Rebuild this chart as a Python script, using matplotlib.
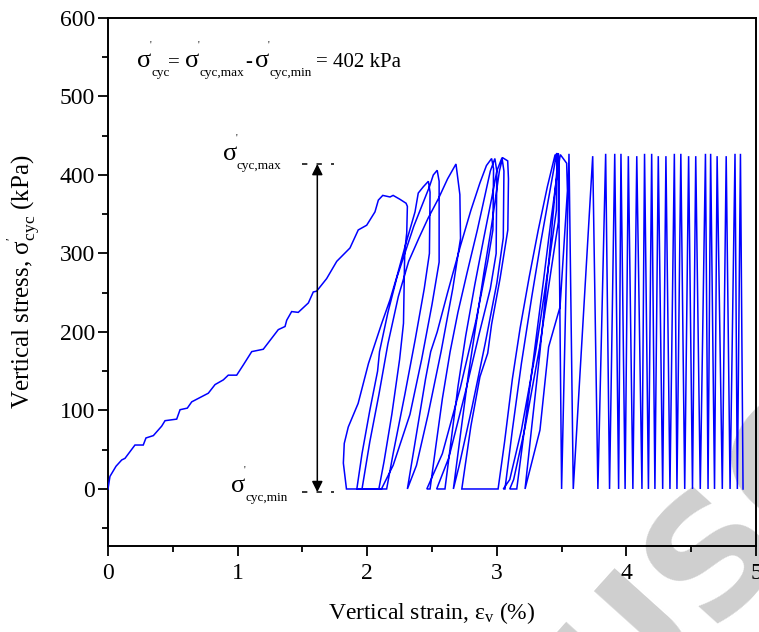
import matplotlib
matplotlib.use("Agg")
import matplotlib.pyplot as plt
from matplotlib.ticker import MultipleLocator

plt.rcParams['font.family'] = ['Liberation Serif', 'DejaVu Serif']
plt.rcParams['mathtext.fontset'] = 'custom'
plt.rcParams['mathtext.rm'] = 'Liberation Serif'
plt.rcParams['mathtext.it'] = 'Liberation Serif:italic'
plt.rcParams['mathtext.bf'] = 'Liberation Serif:bold'

# ---------------- data ----------------
# monotonic first loading
mono_strain = [0.0, 0.015, 0.062, 0.106, 0.131, 0.208, 0.272, 0.293, 0.35, 0.414, 0.44, 0.53,
               0.556, 0.612, 0.646, 0.774, 0.826, 0.89, 0.928, 0.993, 1.044, 1.109, 1.198,
               1.263, 1.314, 1.366, 1.379, 1.417, 1.468, 1.546, 1.584, 1.61, 1.687, 1.765,
               1.867, 1.931, 1.996, 2.06, 2.086, 2.12, 2.176, 2.20, 2.253, 2.30, 2.31]
mono_stress = [0, 16, 29, 37, 39, 56, 56, 65, 68, 80, 87, 89,
               101, 103, 111, 122, 133, 139, 145, 145, 158, 175, 178,
               192, 203, 207, 215, 226, 225, 237, 251, 252, 268, 290,
               307, 330, 336, 353, 368, 374, 372, 374, 369, 364, 360]

# unloading / reloading branches of the first cycles (in order)
loop_strain = [
    [2.31, 2.305, 2.29, 2.287, 2.28, 2.25, 2.19, 2.13, 2.09],
    [1.84, 1.816, 1.823, 1.854, 1.93, 2.01, 2.112, 2.176, 2.228, 2.292, 2.369, 2.394, 2.433, 2.472],
    [2.472, 2.485, 2.48, 2.44, 2.37, 2.29, 2.20, 2.15],
    [1.92, 1.96, 2.02, 2.08, 2.095, 2.16, 2.23, 2.30, 2.36, 2.42, 2.48, 2.51, 2.54],
    [2.54, 2.555, 2.555, 2.50, 2.42, 2.33, 2.20, 2.11],
    [1.96, 2.02, 2.09, 2.16, 2.24, 2.32, 2.40, 2.47, 2.55, 2.62, 2.685],
    [2.685, 2.715, 2.72, 2.66, 2.57, 2.47, 2.38, 2.31],
    [2.31, 2.38, 2.45, 2.49, 2.54, 2.62, 2.72, 2.80, 2.87, 2.92, 2.96],
    [2.96, 2.975, 2.97, 2.93, 2.84, 2.72, 2.58, 2.46],
    [2.485, 2.53, 2.58, 2.64, 2.70, 2.77, 2.85, 2.91, 2.95, 2.985],
    [2.985, 3.0, 2.995, 2.95, 2.86, 2.76, 2.63, 2.536],
    [2.60, 2.65, 2.70, 2.76, 2.83, 2.90, 2.96, 3.00, 3.04],
    [3.04, 3.055, 3.05, 3.00, 2.91, 2.81, 2.71, 2.665],
    [2.665, 2.72, 2.78, 2.84, 2.90, 2.95, 2.99, 3.02, 3.045, 3.084],
    [3.084, 3.09, 3.085, 3.025, 2.96, 2.93, 2.87, 2.80, 2.73],
    [3.01, 3.06, 3.12, 3.18, 3.25, 3.32, 3.39, 3.45],
    [3.45, 3.465, 3.46, 3.40, 3.30, 3.19, 3.10, 3.05],
    [3.063, 3.12, 3.19, 3.27, 3.34, 3.41, 3.462],
    [3.462, 3.48, 3.475, 3.42, 3.33, 3.22, 3.13, 3.10],
    [3.154, 3.22, 3.29, 3.36, 3.42, 3.465, 3.49, 3.539],
    [3.539, 3.545, 3.488, 3.40, 3.333, 3.218],
    [3.218, 3.27, 3.33, 3.39, 3.44, 3.475],
]
loop_stress = [
    [360, 326, 304, 279, 211, 165, 95, 35, 0],
    [0, 33, 58, 79, 109, 160, 211, 241, 270, 309, 353, 377, 385, 392],
    [392, 378, 300, 255, 190, 120, 45, 0],
    [0, 45, 100, 150, 175, 225, 270, 305, 335, 360, 385, 400, 406],
    [406, 392, 289, 235, 165, 95, 30, 0],
    [0, 60, 120, 185, 245, 290, 320, 345, 370, 395, 414],
    [414, 375, 319, 255, 175, 95, 30, 0],
    [0, 70, 140, 175, 200, 250, 310, 355, 390, 412, 421],
    [421, 408, 330, 290, 215, 130, 45, 0],
    [0, 55, 115, 175, 225, 275, 330, 375, 405, 421],
    [421, 405, 300, 255, 195, 125, 40, 0],
    [0, 65, 130, 195, 260, 320, 370, 405, 422],
    [422, 405, 320, 262, 185, 105, 30, 0],
    [0, 70, 145, 210, 275, 325, 370, 405, 422, 418],
    [418, 395, 330, 268, 210, 173, 143, 80, 0],
    [0, 60, 140, 205, 270, 330, 385, 426],
    [426, 415, 355, 285, 175, 75, 12, 0],
    [0, 75, 160, 245, 315, 380, 428],
    [428, 412, 340, 280, 180, 80, 12, 0],
    [0, 85, 175, 265, 345, 400, 426, 415],
    [415, 380, 232, 181, 75, 0],
    [0, 80, 170, 270, 360, 428],
]

# fast cycles at the end: trough and peak strains
osc_trough_strain = [3.50, 3.59, 3.78, 3.87, 3.94, 3.99, 4.05, 4.12, 4.17, 4.22, 4.28,
                     4.336, 4.39, 4.45, 4.51, 4.57, 4.63, 4.68, 4.74, 4.80, 4.856, 4.90]
osc_peak_strain = [3.557, 3.74, 3.84, 3.91, 3.958, 4.015, 4.08, 4.14, 4.195, 4.246,
                   4.305, 4.37, 4.42, 4.48, 4.535, 4.61, 4.65, 4.70, 4.77, 4.838, 4.88]
osc_peak_stress = [427, 424, 427, 427, 427, 424, 424, 427, 427, 424,
                   424, 427, 427, 424, 424, 427, 427, 424, 424, 427, 427]
osc_trough_stress = 0

sig_max = 414
sig_min = -4
arrow_strain = 1.615

# ---------------- figure ----------------
W, H = 759, 632
fig = plt.figure(figsize=(W/100, H/100), dpi=100)
ax = fig.add_axes([108/W, 1-545.5/H, (756-108)/W, (545.5-18)/H])

blue = '#0000ff'
lw = 1.1

xs = list(mono_strain)
ys = list(mono_stress)
for sx, sy in zip(loop_strain, loop_stress):
    xs += sx
    ys += sy
for i, xt in enumerate(osc_trough_strain):
    xs.append(xt); ys.append(osc_trough_stress)
    if i < len(osc_peak_strain):
        xs.append(osc_peak_strain[i]); ys.append(osc_peak_stress[i])
ax.plot(xs, ys, color=blue, lw=lw, solid_joinstyle='miter', zorder=3)

# arrow and dashed guides
ax.annotate('', xy=(arrow_strain, sig_max), xytext=(arrow_strain, sig_min),
            arrowprops=dict(arrowstyle='<|-|>', color='black', lw=1.1,
                            mutation_scale=16, shrinkA=0, shrinkB=0), zorder=4)
for yv in (sig_max, sig_min):
    ax.plot([1.50, 1.74], [yv, yv], color='black', lw=1.1, dashes=(3.5, 6), zorder=4)


def ptxt(x, y, s, size, **kw):
    """text placed at a pixel position of the 759x632 picture (baseline, left)"""
    return fig.text(x / W, 1 - y / H, s, fontsize=size, ha='left', va='baseline', **kw)


def sigma_sub(x, y, sub, big=19, small=9.5):
    ptxt(x - 1, y, "σ", big)
    ptxt(x + 12, y - 19, "'", 7)
    ptxt(x + 13, y + 9, sub, small)


# formula at top
sigma_sub(138, 67, "cyc")
ptxt(168, 67, "=", 15)
sigma_sub(186, 67, "cyc,max")
ptxt(245, 67, "-", 15)
sigma_sub(256, 67, "cyc,min")
ptxt(316, 67, "= 402 kPa", 15)

# labels at the arrow ends
sigma_sub(224, 160, "cyc,max")
sigma_sub(232, 492, "cyc,min")

ax.set_xlim(0, 5)
ax.set_ylim(-72, 600)
ax.xaxis.set_major_locator(MultipleLocator(1))
ax.xaxis.set_minor_locator(MultipleLocator(0.5))
ax.yaxis.set_minor_locator(MultipleLocator(50))
ax.set_yticks([0, 100, 200, 300, 400, 500, 600])
ax.tick_params(which='major', direction='out', length=7, width=1.3, labelsize=17, pad=2.5)
ax.tick_params(axis='x', which='major', pad=5.5)
ax.tick_params(which='minor', direction='out', length=4.5, width=1.3)
for s in ax.spines.values():
    s.set_linewidth(1.4)

ax.set_xlabel("Vertical strain, ε$_{\\mathrm{v}}$ (%)", fontsize=17, labelpad=12)
ax.set_ylabel("Vertical stress, σ$^{'}_{\\mathrm{cyc}}$ (kPa)", fontsize=18, labelpad=12)

# watermark
ax.text(0.93, -0.02, "USC", transform=ax.transAxes, fontsize=118, color='#cfcfcf',
        fontweight='bold', family='DejaVu Sans', rotation=48, ha='center', va='center',
        zorder=0.5, clip_on=False)
ax.set_facecolor('none')

fig.savefig("out.png", dpi=100)
